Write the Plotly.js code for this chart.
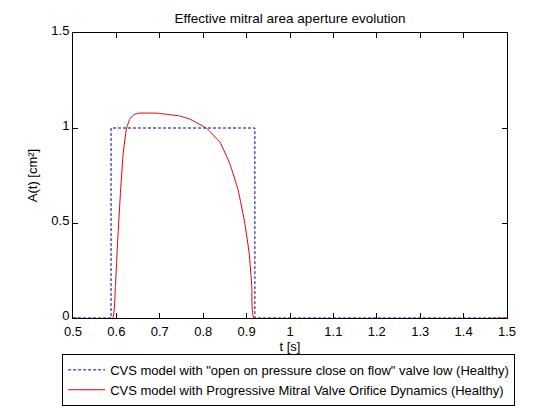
<!DOCTYPE html>
<html><head><meta charset="utf-8">
<script src="https://cdn.plot.ly/plotly-3.0.1.min.js"></script>
<style>html,body{margin:0;padding:0;background:#fff;}#chart{width:560px;height:420px;}</style>
</head><body><div id="chart"></div>
<script>
const blueT = [0.5, 0.5877, 0.5877, 0.9191, 0.9191, 1.5];
const blueA = [0, 0, 1, 1, 0, 0];
const redT = [0.5, 0.5915, 0.5977, 0.603, 0.6092, 0.6155, 0.623, 0.6307, 0.640, 0.6515, 0.694, 0.7233, 0.744, 0.769, 0.808, 0.8385, 0.8615, 0.8806, 0.896, 0.906, 0.912, 0.9168, 1.5];
const redA = [0, 0, 0.165, 0.41, 0.654, 0.864, 0.995, 1.047, 1.07, 1.078, 1.078, 1.07, 1.064, 1.047, 0.998, 0.925, 0.811, 0.672, 0.497, 0.34, 0.165, 0, 0];
const xTicks = [0.5,0.6,0.7,0.8,0.9,1,1.1,1.2,1.3,1.4,1.5];
const yTicks = [0,0.5,1,1.5];
const names = ['CVS model with "open on pressure close on flow" valve low (Healthy)',
               'CVS model with Progressive Mitral Valve Orifice Dynamics (Healthy)'];

const font = {family:'"Liberation Sans", Arial, sans-serif', size:13, color:'#000'};
const traces = [
  {x: blueT, y: blueA, mode:'lines', name: names[0], line:{color:'#0000a0', width:1, dash:'3px,2px'}},
  {x: redT, y: redA, mode:'lines', name: names[1], line:{color:'#d80000', width:1, shape:'spline', smoothing:0.3}}
];
const axisCommon = {showgrid:false, zeroline:false, showline:true, linecolor:'#000', linewidth:1,
  mirror:'ticks', ticks:'inside', ticklen:5, tickcolor:'#000', tickfont:font};
const layout = {
  width:560, height:420,
  margin:{l:73, r:53, t:33, b:102},
  paper_bgcolor:'#fff', plot_bgcolor:'#fff',
  font: font,
  title:{text:'Effective mitral area aperture evolution', font:Object.assign({}, font, {size:13.5}), x:0.5, xref:'paper', y:1-18/420, yref:'container', yanchor:'middle'},
  xaxis: Object.assign({}, axisCommon, {range:[0.5,1.5], tickvals:xTicks, ticktext:xTicks.map(String), ticklabelstandoff:1,
    title:{text:'t [s]', font:font, standoff:1}}),
  yaxis: Object.assign({}, axisCommon, {range:[0,1.5], tickvals:yTicks, ticktext:yTicks.map(String), ticklabelshift:-3,
    title:{text:'A(t) [cm²]', font:font, standoff:10}}),
  showlegend:true,
  legend:{x:-0.025, y:-0.126, xanchor:'left', yanchor:'top', bordercolor:'#000', borderwidth:1,
    bgcolor:'#fff', font:font, tracegroupgap:0, itemwidth:37}
};
Plotly.newPlot('chart', traces, layout, {staticPlot:true, displayModeBar:false});
</script></body></html>
